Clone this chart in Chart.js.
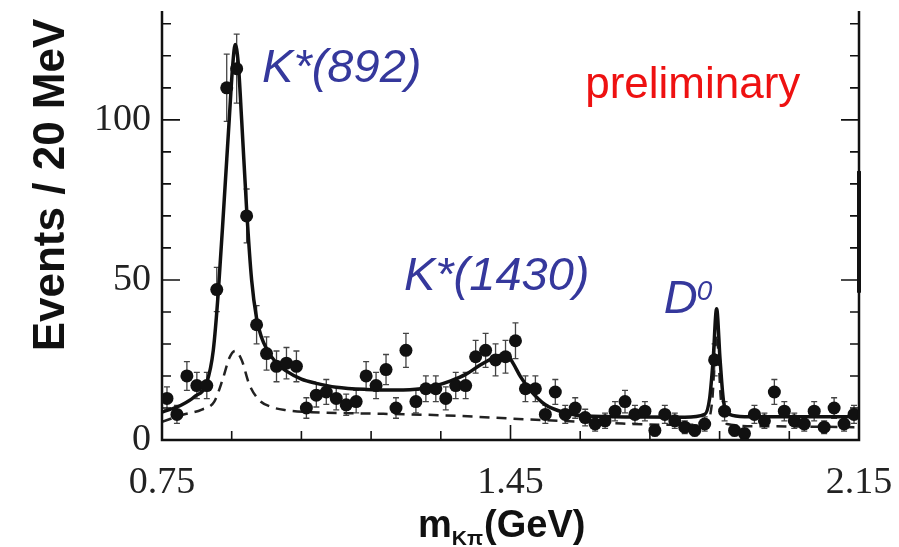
<!DOCTYPE html>
<html><head><meta charset="utf-8">
<style>html,body{margin:0;padding:0;background:#fff}#wrap{width:899px;height:547px;position:relative}</style>
<script src="https://cdn.jsdelivr.net/npm/chart.js@4.4.1/dist/chart.umd.min.js"></script>
</head><body><div id="wrap"><canvas id="c"></canvas></div>
<script>
// ---- data ----
const massBins = [0.76,0.78,0.80,0.82,0.84,0.86,0.88,0.90,0.92,0.94,0.96,0.98,1.00,1.02,1.04,1.06,1.08,1.10,1.12,1.14,1.16,1.18,1.20,1.22,1.24,1.26,1.28,1.30,1.32,1.34,1.36,1.38,1.40,1.42,1.44,1.46,1.48,1.50,1.52,1.54,1.56,1.58,1.60,1.62,1.64,1.66,1.68,1.70,1.72,1.74,1.76,1.78,1.80,1.82,1.84,1.86,1.88,1.90,1.92,1.94,1.96,1.98,2.00,2.02,2.04,2.06,2.08,2.10,2.12,2.14];
const events = [13,8,20,17,17,47,110,116,70,36,27,23,24,23,10,14,15,13,11,12,20,17,22,10,28,12,16,16,13,17,17,26,28,25,26,31,16,16,8,15,8,10,7,5,6,9,12,8,9,3,8,6,4,3,5,25,9,3,2,8,6,15,9,6,5,9,4,10,5,8];
const errors = [3.6,2.8,4.5,4.1,4.1,6.9,10.5,10.8,8.4,6.0,5.2,4.8,4.9,4.8,3.2,3.7,3.9,3.6,3.3,3.5,4.5,4.1,4.7,3.2,5.3,3.5,4.0,4.0,3.6,4.1,4.1,5.1,5.3,5.0,5.1,5.6,4.0,4.0,2.8,3.9,2.8,3.2,2.6,2.2,2.4,3.0,3.5,2.8,3.0,1.7,2.8,2.4,2.0,1.7,2.2,5.0,3.0,1.7,1.4,2.8,2.4,3.9,3.0,2.4,2.2,3.0,2.0,3.2,2.2,2.8];
const fitMass   = [0.75,0.79,0.815,0.84,0.853,0.863,0.875,0.885,0.892,0.897,0.903,0.91,0.92,0.93,0.94,0.95,0.96,0.98,1.00,1.03,1.06,1.10,1.16,1.22,1.27,1.30,1.33,1.36,1.39,1.42,1.442,1.455,1.47,1.49,1.52,1.56,1.60,1.70,1.80,1.84,1.85,1.857,1.864,1.871,1.878,1.89,1.92,2.00,2.15];
const fitValues = [8.7,11,13.5,18,28,46,75,100,117,123.5,118,100,72,50,38,32,28.5,24,21.5,19,17.7,16.5,15.8,15.6,16,17,18.5,20.5,23.5,26,26.8,24,19.8,15.5,11,8.5,7.5,7.2,7.1,8,13,25,41,25,12,8,7.3,7.3,7.3];
const bkgMass   = [0.75,0.79,0.83,0.855,0.872,0.885,0.897,0.91,0.925,0.945,0.97,1.00,1.05,1.15,1.25,1.35,1.45,1.55,1.65,1.75,1.84,1.855,1.864,1.873,1.885,1.95,2.15];
const bkgValues = [5.7,7.8,9.5,12,19,25.5,27.8,25,17.5,12.5,10.3,9.3,8.7,8.3,8.0,7.5,6.7,6.0,5.3,4.8,4.8,12,33,12,5,4.3,4.0];
const xTickValues = [0.75,0.89,1.03,1.17,1.31,1.45,1.59,1.73,1.87,2.01,2.15];
const xTickLabels = ['0.75','','','','','1.45','','','','','2.15'];
const yTickValues = [0,10,20,30,40,50,60,70,80,90,100,110,120,130];
const yTickLabels = ['0','','','','','50','','','','','100','','',''];
const peakNames = ['K*(892)','K*(1430)','D'];
const yTitle = 'Events / 20 MeV';

const INK = '#111';
const BLUE = '#35389c';

const decor = {
  id: 'decor',
  beforeDatasetsDraw(chart) {
    const {ctx, scales:{x, y}} = chart;
    ctx.save();
    ctx.strokeStyle = '#444';
    ctx.lineWidth = 1.3;
    for (let i = 0; i < massBins.length; i++) {
      const px = x.getPixelForValue(massBins[i]);
      const y1 = y.getPixelForValue(events[i] - errors[i]);
      const y2 = y.getPixelForValue(events[i] + errors[i]);
      ctx.beginPath();
      ctx.moveTo(px, y1); ctx.lineTo(px, y2);
      ctx.moveTo(px - 3, y1); ctx.lineTo(px + 3, y1);
      ctx.moveTo(px - 3, y2); ctx.lineTo(px + 3, y2);
      ctx.stroke();
    }
    ctx.restore();
  },
  afterDraw(chart) {
    const {ctx, chartArea: a, scales:{x, y}} = chart;
    ctx.save();
    // frame
    ctx.strokeStyle = INK;
    ctx.lineWidth = 2.5;
    ctx.beginPath();
    ctx.moveTo(a.left, a.top); ctx.lineTo(a.left, a.bottom); ctx.lineTo(a.right, a.bottom); ctx.lineTo(a.right, a.top);
    ctx.stroke();
    // thick segment on the right edge
    ctx.lineWidth = 4;
    ctx.beginPath();
    ctx.moveTo(a.right, y.getPixelForValue(84)); ctx.lineTo(a.right, y.getPixelForValue(46));
    ctx.stroke();
    // tick marks
    ctx.lineWidth = 1.6;
    ctx.beginPath();
    xTickValues.forEach((v, i) => {
      const px = x.getPixelForValue(v);
      const len = xTickLabels[i] ? 15 : 9;
      ctx.moveTo(px, a.bottom); ctx.lineTo(px, a.bottom - len);
    });
    yTickValues.forEach((v, i) => {
      const py = y.getPixelForValue(v);
      const len = yTickLabels[i] ? 18 : 9;
      ctx.moveTo(a.left, py); ctx.lineTo(a.left + len, py);
      ctx.moveTo(a.right, py); ctx.lineTo(a.right - len, py);
    });
    ctx.stroke();

    // y title
    ctx.fillStyle = INK;
    ctx.font = 'bold 44px "Liberation Sans", Arial, sans-serif';
    ctx.textAlign = 'center';
    ctx.textBaseline = 'alphabetic';
    ctx.save();
    ctx.translate(64, 185);
    ctx.rotate(-Math.PI / 2);
    ctx.fillText(yTitle, 0, 0);
    ctx.restore();

    // x title: m_{Kπ}(GeV)
    ctx.textAlign = 'left';
    let cx = 418;
    ctx.font = 'bold 38px "Liberation Sans", Arial, sans-serif';
    ctx.fillText('m', cx, 537); cx += ctx.measureText('m').width;
    ctx.font = 'bold 21px "Liberation Sans", Arial, sans-serif';
    ctx.fillText('Kπ', cx, 545); cx += ctx.measureText('Kπ').width + 1;
    ctx.font = 'bold 38px "Liberation Sans", Arial, sans-serif';
    ctx.fillText('(GeV)', cx, 537);

    // peak annotations
    ctx.fillStyle = BLUE;
    ctx.font = 'italic 47px "Liberation Sans", Arial, sans-serif';
    ctx.fillText(peakNames[0], x.getPixelForValue(0.951), y.getPixelForValue(111.9));
    ctx.fillText(peakNames[1], x.getPixelForValue(1.236), y.getPixelForValue(46.9));
    const dx = x.getPixelForValue(1.758), dy = y.getPixelForValue(39.7);
    ctx.fillText(peakNames[2], dx, dy);
    const dw = ctx.measureText(peakNames[2]).width;
    ctx.font = 'italic 28px "Liberation Sans", Arial, sans-serif';
    ctx.fillText('0', dx + dw - 1, dy - 13);

    ctx.fillStyle = '#ee1111';
    ctx.font = '44px "Liberation Sans", Arial, sans-serif';
    ctx.fillText('preliminary', x.getPixelForValue(1.600), y.getPixelForValue(106.9));
    ctx.restore();
  }
};

new Chart(document.getElementById('c'), {
  type: 'scatter',
  data: {
    datasets: [
      { type: 'line', label: 'fit', data: fitMass.map((m, i) => ({x: m, y: fitValues[i]})),
        borderColor: INK, borderWidth: 3.5, pointRadius: 0, cubicInterpolationMode: 'monotone', fill: false, order: 2 },
      { type: 'line', label: 'background', data: bkgMass.map((m, i) => ({x: m, y: bkgValues[i]})),
        borderColor: '#222', borderWidth: 2.5, borderDash: [10, 7], pointRadius: 0, cubicInterpolationMode: 'monotone', fill: false, order: 3 },
      { label: 'data', data: massBins.map((m, i) => ({x: m, y: events[i]})),
        pointRadius: 6.5, pointBackgroundColor: INK, pointBorderWidth: 0, order: 1 }
    ]
  },
  options: {
    responsive: true, maintainAspectRatio: false, animation: false,
    layout: { padding: { left: 0, right: 40, top: 11, bottom: 0 } },
    plugins: { legend: { display: false }, tooltip: { enabled: false } },
    scales: {
      x: {
        type: 'linear', min: 0.75, max: 2.15,
        grid: { display: false, drawTicks: false }, border: { display: false },
        afterBuildTicks: s => { s.ticks = xTickValues.map(v => ({value: v})); },
        afterFit: s => { s.height = 107; s.paddingLeft = 0; s.paddingRight = 0; },
        ticks: { autoSkip: false, maxRotation: 0, padding: 20, color: '#222',
          font: { family: '"Liberation Serif", "Times New Roman", serif', size: 38 },
          callback: (v, i) => xTickLabels[i] }
      },
      y: {
        type: 'linear', min: 0, max: 134,
        grid: { display: false, drawTicks: false }, border: { display: false },
        afterBuildTicks: s => { s.ticks = yTickValues.map(v => ({value: v})); },
        afterFit: s => { s.width = 162; s.paddingTop = 0; s.paddingBottom = 0; },
        ticks: { autoSkip: false, padding: 11, color: '#222',
          font: { family: '"Liberation Serif", "Times New Roman", serif', size: 38 },
          callback: (v, i) => yTickLabels[i] }
      }
    }
  },
  plugins: [decor]
});
</script>
</body></html>
